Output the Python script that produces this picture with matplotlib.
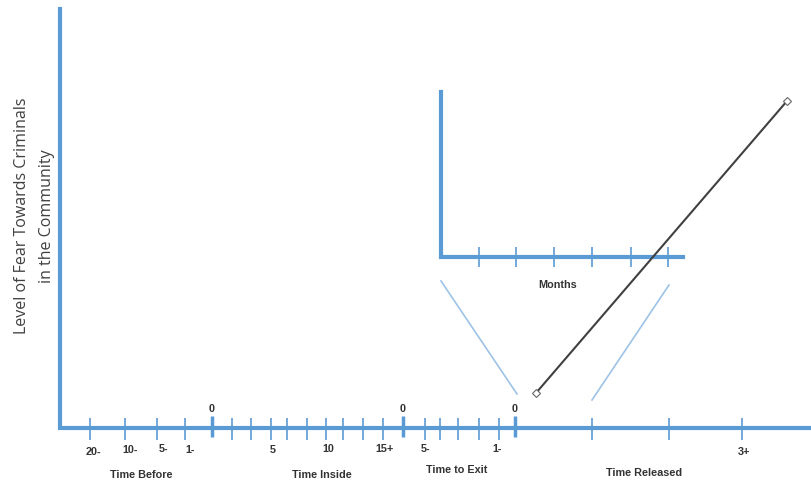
import matplotlib.pyplot as plt

# colores
azul = '#5B9BD5'
azul_claro = '#9DC3E6'

# eje principal: posiciones de las marcas (x en pixeles del diagrama)
marcas = [90, 125, 157, 185, 232, 251, 271, 287, 307, 326, 343, 363, 383,
          425, 440, 458, 479, 499, 592, 669, 742]
marcas_cero = [212, 403, 515]

etiquetas = ['20-', '10-', '5-', '1-', '5', '10', '15+', '5-', '1-', '3+']
etiquetas_x = [93, 130, 163, 190, 273, 328, 385, 425, 497, 744]
etiquetas_y = [452, 450, 449, 450, 450, 449, 449, 449, 449, 452]

secciones = ['Time Before', 'Time Inside', 'Time to Exit', 'Time Released']
secciones_x = [141, 322, 457, 644]
secciones_y = [475, 475, 470, 473]

# recuadro de meses
marcas_meses = [479, 516, 554, 592, 631, 668]

# linea de miedo (inicio y fin)
miedo_x = [536, 787]
miedo_y = [394, 102]

fig = plt.figure(figsize=(8.11, 4.85), dpi=100)
ax = fig.add_axes([0, 0, 1, 1])
ax.set_xlim(0, 811)
ax.set_ylim(485, 0)
ax.axis('off')

estilo = dict(ha='center', va='center', fontsize=7.8, fontweight='bold',
              color='#333333', family='Liberation Sans')

# ejes principales
ax.plot([60, 60, 811], [10, 429, 429], color=azul, lw=3, solid_joinstyle='miter')
ax.vlines(marcas, 419, 441, color=azul, lw=1.2)
ax.vlines(marcas_cero, 417, 438, color=azul, lw=2.5)

for t, x, y in zip(etiquetas, etiquetas_x, etiquetas_y):
    ax.text(x, y, t, **estilo)
for x in marcas_cero:
    ax.text(x, 409, '0', **estilo)
for t, x, y in zip(secciones, secciones_x, secciones_y):
    ax.text(x, y, t, **estilo)

# etiqueta eje y
ax.text(35, 216, 'Level of Fear Towards Criminals\nin the Community', rotation=90,
        ha='center', va='center', fontsize=11.5, color='#404040',
        family='Open Sans', linespacing=1.75)

# recuadro de meses
ax.plot([441, 441, 683], [93, 258, 258], color=azul, lw=3, solid_joinstyle='miter')
ax.vlines(marcas_meses, 248, 268, color=azul, lw=1.2)
ax.text(558, 285, 'Months', **estilo)

# lineas de zoom
ax.plot([441, 517], [282, 395], color=azul_claro, lw=1.2)
ax.plot([669, 592], [286, 401], color=azul_claro, lw=1.2)

# linea de miedo
ax.plot(miedo_x, miedo_y, color='#404040', lw=1.5, marker='D', markersize=4.5,
        markerfacecolor='white', markeredgecolor='#666666', markeredgewidth=0.8)

fig.savefig('out.png', dpi=100)
